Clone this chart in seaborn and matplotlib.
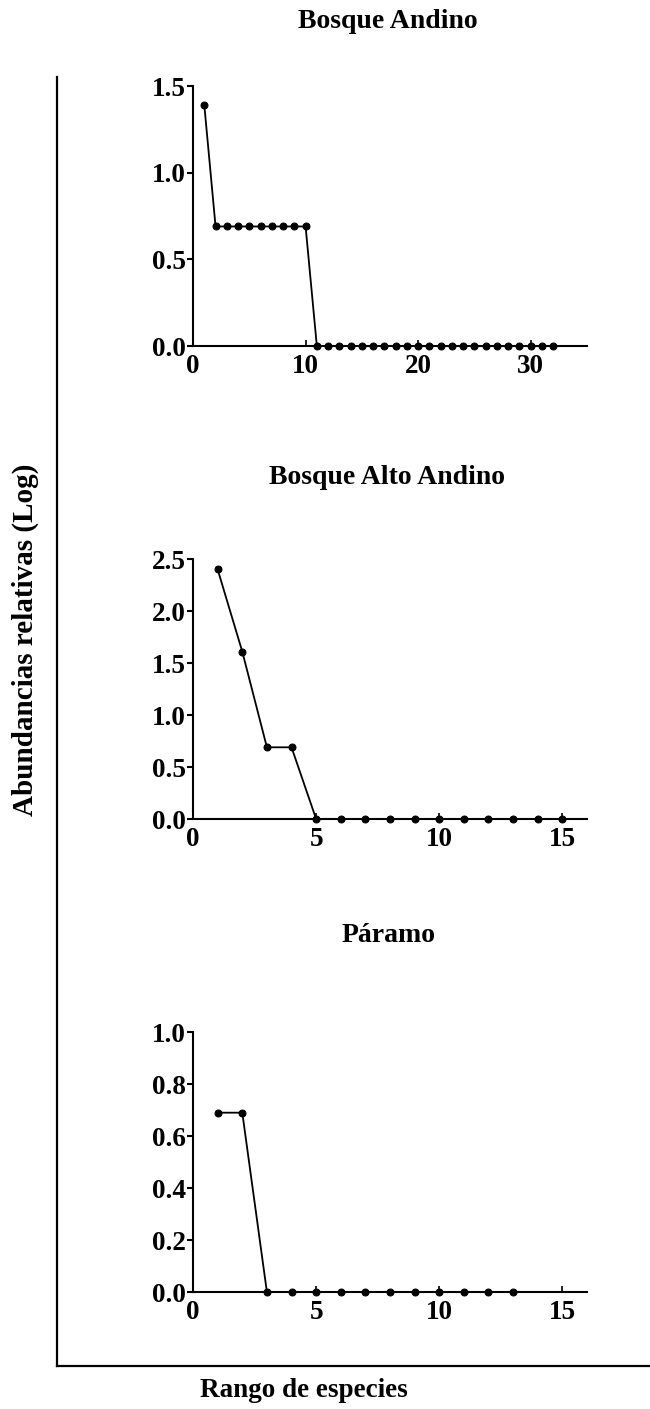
"""Curvas rango-abundancia por tipo de bosque."""

import matplotlib.pyplot as plt
import pandas as pd
import seaborn as sns

# Bosque Andino
andino_rank = list(range(1, 33))
andino_log = [1.39] + [0.69] * 9 + [0.0] * 22

# Bosque Alto Andino
alto_rank = list(range(1, 16))
alto_log = [2.40, 1.61, 0.69, 0.69] + [0.0] * 11

# Páramo
paramo_rank = list(range(1, 14))
paramo_log = [0.69, 0.69] + [0.0] * 11

titles = ["Bosque Andino", "Bosque Alto Andino", "Páramo"]
xlims = [35, 16, 16]
xticks = [[0, 10, 20, 30], [0, 5, 10, 15], [0, 5, 10, 15]]
ylims = [1.5, 2.5, 1.0]
yticks = [
    [0.0, 0.5, 1.0, 1.5],
    [0.0, 0.5, 1.0, 1.5, 2.0, 2.5],
    [0.0, 0.2, 0.4, 0.6, 0.8, 1.0],
]

sns.set_style("ticks")
plt.rcParams["font.family"] = ["Liberation Serif", "DejaVu Serif"]
plt.rcParams["font.weight"] = "bold"
plt.rcParams["text.color"] = "black"
plt.rcParams["axes.labelcolor"] = "black"
plt.rcParams["xtick.color"] = "black"
plt.rcParams["ytick.color"] = "black"

fig = plt.figure(figsize=(6.5, 14.09), dpi=100)

# marco exterior con las etiquetas comunes
frame = fig.add_axes([0.0877, 0.0305, 0.9123, 0.915])
frame.patch.set_alpha(0)
for side in ["top", "right"]:
    frame.spines[side].set_visible(False)
for side in ["left", "bottom"]:
    frame.spines[side].set_linewidth(1.6)
    frame.spines[side].set_color("black")
frame.set_xticks([])
frame.set_yticks([])
frame.set_ylabel("Abundancias relativas (Log)", fontsize=21, fontweight="bold")
frame.set_xlabel("Rango de especies", fontsize=19.5, fontweight="bold")
frame.yaxis.set_label_coords(-0.03, 0.563)
frame.xaxis.set_label_coords(0.4165, -0.009)

bottoms = [0.7544, 0.4187, 0.0830]
series = [
    (andino_rank, andino_log),
    (alto_rank, alto_log),
    (paramo_rank, paramo_log),
]
title_pos = [(0.597, 0.9844), (0.595, 0.6608), (0.598, 0.3364)]

for i, (rank, vals) in enumerate(series):
    ax = fig.add_axes([0.297, bottoms[i], 0.606, 0.1845])
    df = pd.DataFrame({"rango": rank, "abund": vals})
    sns.lineplot(
        data=df,
        x="rango",
        y="abund",
        color="black",
        linewidth=1.3,
        marker="o",
        markersize=5,
        markeredgecolor="black",
        ax=ax,
    )
    ax.set_xlim(0, xlims[i])
    ax.set_ylim(0, ylims[i])
    ax.set_xticks(xticks[i])
    ax.set_yticks(yticks[i])
    ax.set_yticklabels([f"{v:.1f}" for v in yticks[i]])
    ax.set_xlabel("")
    ax.set_ylabel("")
    sns.despine(ax=ax)
    for side in ["left", "bottom"]:
        ax.spines[side].set_linewidth(1.5)
        ax.spines[side].set_color("black")
    ax.spines["left"].set_bounds(0, ylims[i])
    ax.tick_params(axis="y", direction="out", length=4, width=1.5, pad=1,
                   labelsize=19.5)
    ax.tick_params(axis="x", direction="in", length=4, width=1.2, pad=6,
                   labelsize=19.5)
    for lab in ax.get_xticklabels() + ax.get_yticklabels():
        lab.set_fontweight("bold")
    ax.patch.set_alpha(0)
    for ln in ax.lines:
        ln.set_clip_on(False)
    fig.text(title_pos[i][0], title_pos[i][1], titles[i], ha="center", va="center",
             fontsize=20, fontweight="bold")

fig.savefig("out.png", dpi=100)
